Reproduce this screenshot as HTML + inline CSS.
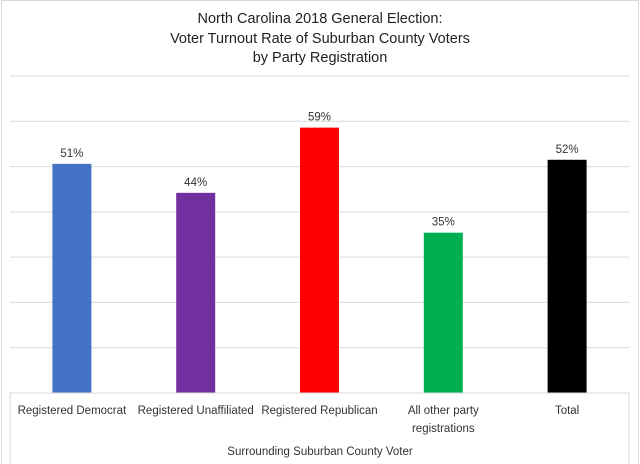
<!DOCTYPE html>
<html><head><meta charset="utf-8"><style>
html,body{margin:0;padding:0;background:#fff}
svg{display:block;font-family:"Liberation Sans",sans-serif}
</style></head><body>
<svg id="chart" width="640" height="464" viewBox="0 0 640 464">
<rect x="1.5" y="0.5" width="637" height="470" fill="#fff" stroke="#d9d9d9"/>
<g font-size="14.5" fill="#222" text-anchor="middle">
<text x="320" y="23">North Carolina 2018 General Election:</text>
<text x="320" y="43">Voter Turnout Rate of Suburban County Voters</text>
<text x="320" y="62">by Party Registration</text>
</g>
<g id="grid"></g>
<g id="bars"></g>
<rect x="10" y="393" width="619" height="80" fill="none" stroke="#d9d9d9"/>
<g id="cats" font-size="11.5" fill="#333" text-anchor="middle"></g>
<text x="320" y="455" font-size="11.5" fill="#333" text-anchor="middle">Surrounding Suburban County Voter</text>
</svg>
<script>
const categories=[["Registered Democrat"],["Registered Unaffiliated"],["Registered Republican"],["All other party","registrations"],["Total"]];
const values=[50.6,44.2,58.6,35.4,51.5];
const valueLabels=["51%","44%","59%","35%","52%"];
const colors=["#4472c4","#7030a0","#ff0000","#00b050","#000000"];
const gridTicks=[10,20,30,40,50,60,70];
const NS="http://www.w3.org/2000/svg";
const x0=10,x1=629,y0=393,yMax=70,yTop=76;
const y=v=>y0-(v/yMax)*(y0-yTop);
const bw=(x1-x0)/categories.length;
const xc=i=>x0+bw*(i+0.5);
function mk(t,a){const e=document.createElementNS(NS,t);for(const k in a)e.setAttribute(k,a[k]);return e;}
const grid=document.getElementById('grid');
gridTicks.forEach(t=>{
 const l=mk('line',{x1:x0,x2:x1,y1:y(t),y2:y(t),stroke:'#d9d9d9','stroke-width':1});
 
 
 grid.appendChild(l);
});
const bars=document.getElementById('bars');
values.forEach((v,i)=>{
 const r=mk('rect',{x:xc(i)-19.5,y:y(v),width:39,height:y0-y(v),fill:colors[i]});
 
 
 bars.appendChild(r);
 const t=mk('text',{x:xc(i),y:y(v)-7,'font-size':11.5,fill:'#333','text-anchor':'middle'});
 t.textContent=valueLabels[i];
 
 
 bars.appendChild(t);
});
const cats=document.getElementById('cats');
categories.forEach((c,i)=>{
 c.forEach((line,j)=>{
  const t=mk('text',{x:xc(i),y:414+j*18});
  t.textContent=line;
  
  
  cats.appendChild(t);
 });
});
</script>
</body></html>
